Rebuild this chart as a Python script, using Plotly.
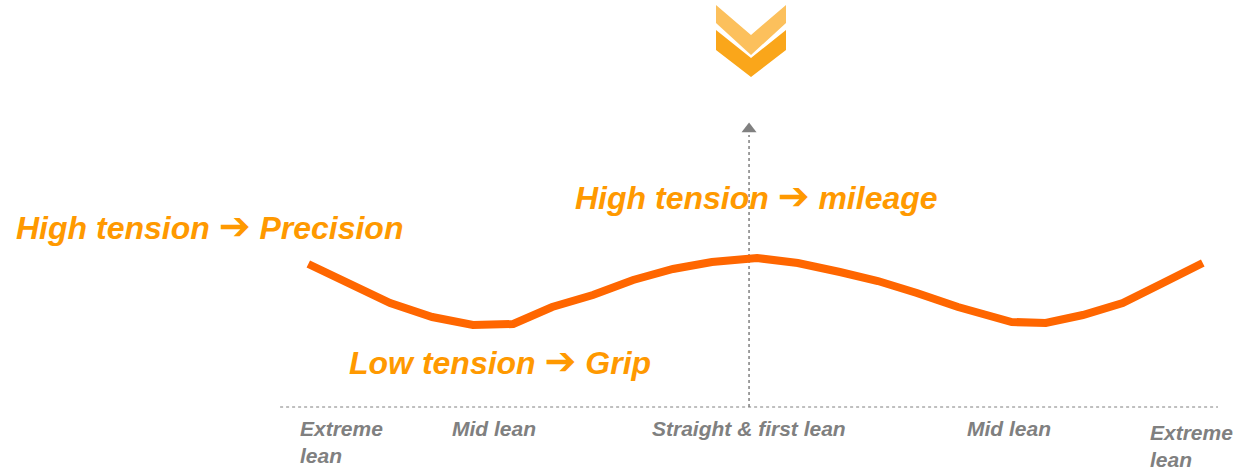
import plotly.graph_objects as go

# Data: lean position (-1 = extreme left lean, 0 = straight, 1 = extreme right lean) vs tyre tension
lean = [-0.985, -0.898, -0.802, -0.708, -0.617, -0.527, -0.440, -0.349, -0.259, -0.170,
        -0.083, 0.018, 0.109, 0.203, 0.288, 0.375, 0.467, 0.587, 0.663, 0.746,
        0.835, 0.925, 1.014]
tension = [1.43, 1.24, 1.04, 0.90, 0.82, 0.83, 1.00, 1.12, 1.27, 1.38,
           1.45, 1.49, 1.44, 1.35, 1.26, 1.14, 1.00, 0.85, 0.84, 0.92,
           1.04, 1.24, 1.44]

tick_labels = ["Extreme<br>lean", "Mid lean", "Straight & first lean", "Mid lean", "Extreme<br>lean"]
tick_pos = [-1.007, -0.57, 0.0, 0.58, 0.892]
tick_anchor = ["left", "center", "center", "center", "left"]
tick_drop = [0.0, 0.0, 0.0, 0.0, -0.035]

ARROW = "<span style='font-family:DejaVu Sans;font-size:38px'>\u2794</span>"
callouts = [f"High tension {ARROW} Precision", f"High tension {ARROW} mileage", f"Low tension {ARROW} Grip"]
callout_x = [-1.642, -0.393, -0.898]
callout_y = [1.81, 2.11, 0.46]

axis_top = 2.72
ORANGE_LINE = "#FF6600"
ORANGE_TEXT = "#FF9900"
GRAY = "#808080"
FONT = "Liberation Sans, Arial, sans-serif"

fig = go.Figure()

# baseline (dotted)
fig.add_trace(go.Scatter(x=[-1.048, 1.048], y=[0, 0], mode="lines",
                         line=dict(color=GRAY, width=1, dash="dot"), hoverinfo="skip"))
# vertical axis (dotted) with arrow head
fig.add_trace(go.Scatter(x=[0, 0], y=[0, axis_top], mode="lines",
                         line=dict(color=GRAY, width=1.5, dash="dot"), hoverinfo="skip"))
fig.add_trace(go.Scatter(x=[0], y=[axis_top + 0.06], mode="markers",
                         marker=dict(symbol="triangle-up", size=13, color=GRAY), hoverinfo="skip"))

# tension curve
fig.add_trace(go.Scatter(x=lean, y=tension, mode="lines",
                         line=dict(color=ORANGE_LINE, width=8), hoverinfo="skip"))

fig.update_layout(
    width=1237, height=470,
    margin=dict(l=0, r=0, t=0, b=0),
    paper_bgcolor="white", plot_bgcolor="white",
    showlegend=False,
    xaxis=dict(range=[-1.674, 1.0905], visible=False, fixedrange=True),
    yaxis=dict(range=[-0.63, 4.07], visible=False, fixedrange=True),
    font=dict(family=FONT),
)

# chevrons (decorative, in paper coordinates derived from pixel layout)
def px(x, y):
    return x / 1237, 1 - y / 470

def chevron(pts, color):
    path = "M " + " L ".join(f"{px(x, y)[0]},{px(x, y)[1]}" for x, y in pts) + " Z"
    fig.add_shape(type="path", path=path, xref="paper", yref="paper",
                  fillcolor=color, line=dict(width=0), layer="above")

chevron([(716, 5), (751, 35), (786, 5), (786, 23), (751, 55), (716, 23)], "#FCC05C")
chevron([(716, 30), (751, 58), (786, 30), (786, 50), (751, 77), (716, 50)], "#FAA61A")

for t, x, y in zip(callouts, callout_x, callout_y):
    fig.add_annotation(x=x, y=y, text=f"<b><i>{t}</i></b>", showarrow=False,
                       xanchor="left", yanchor="middle",
                       font=dict(size=32, color=ORANGE_TEXT, family=FONT))

for t, x, a, d in zip(tick_labels, tick_pos, tick_anchor, tick_drop):
    fig.add_annotation(x=x, y=-0.08 + d, text=f"<b><i>{t}</i></b>", showarrow=False,
                       xanchor=a, yanchor="top", align="left",
                       font=dict(size=21, color=GRAY, family=FONT))

fig.write_html("out.html", config={"displayModeBar": False},
               post_script="document.body.style.margin='0';document.body.style.overflow='hidden';")
